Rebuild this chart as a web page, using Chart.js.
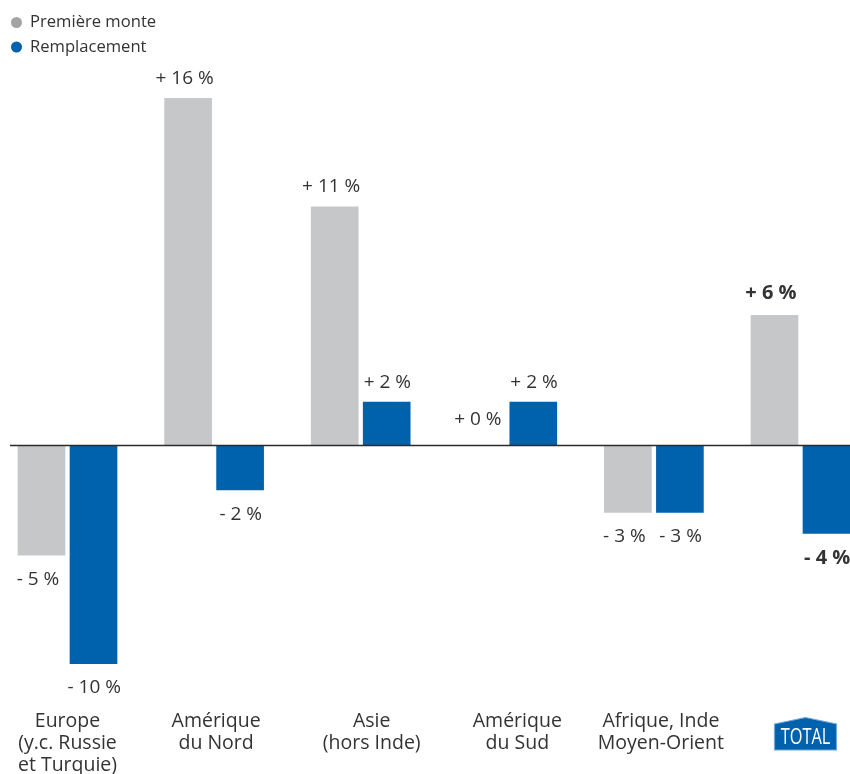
<!DOCTYPE html>
<html><head><meta charset="utf-8">
<style>html,body{margin:0;padding:0;background:#fff}canvas{display:block}</style>
<script src="https://cdn.jsdelivr.net/npm/chart.js@4"></script></head>
<body><canvas id="c" width="850" height="774"></canvas>
<script>
const categories = [["Europe","(y.c. Russie","et Turquie)"],["Amérique","du Nord"],["Asie","(hors Inde)"],["Amérique","du Sud"],["Afrique, Inde","Moyen-Orient"],"TOTAL"];
const seriesNames = ["Première monte","Remplacement"];
const premiereMonte = [-5.05,16,11,0,-3.08,6];
const remplacement = [-10.05,-2.05,2,2,-3.08,-4.05];
const premiereLabels = ["- 5 %","+ 16 %","+ 11 %","+ 0 %","- 3 %","+ 6 %"];
const remplacementLabels = ["- 10 %","- 2 %","+ 2 %","+ 2 %","- 3 %","- 4 %"];
const FONT = '"Open Sans", sans-serif', TEXT = '#333335';
const BAR_GREY = '#c6c7c9', BLUE = '#0061ad', LEGEND_GREY = '#a3a4a6';
const tickShift = [0,2,11,10,7,5];

const overlay = {
  id:'overlay',
  afterDatasetsDraw(chart){
    const {ctx,scales:{x,y}} = chart;
    const y0 = y.getPixelForValue(0);
    ctx.save();
    // baseline
    ctx.strokeStyle='#2b2b2b'; ctx.lineWidth=1.5;
    ctx.beginPath(); ctx.moveTo(10,y0); ctx.lineTo(850,y0); ctx.stroke();
    // value labels
    ctx.textAlign='center'; ctx.textBaseline='middle'; ctx.fillStyle=TEXT;
    [premiereLabels,remplacementLabels].forEach((labels,d)=>{
      chart.getDatasetMeta(d).data.forEach((bar,i)=>{
        const v = chart.data.datasets[d].data[i];
        const last = i===categories.length-1;
        ctx.font=(last?'bold 20px ':'19px ')+FONT;
        const yy = v>=0 ? bar.y-(last?22.5:20) : bar.y+24.5;
        const dx = d===0 ? -3.5 : 0.7;
        ctx.fillText(labels[i],bar.x+dx,v===0?y0-26:yy);
      });
    });
    // category labels, at the scale's tick positions
    ctx.font='19.5px '+FONT;
    categories.slice(0,5).forEach((lines,i)=>{
      lines.forEach((t,k)=>ctx.fillText(t,x.getPixelForTick(i)+tickShift[i],721+k*22));
    });
    // legend
    seriesNames.forEach((n,i)=>{
      const ly=22.5+i*24.5;
      ctx.fillStyle=i===0?LEGEND_GREY:BLUE;
      ctx.beginPath(); ctx.arc(16.5,ly,5.5,0,Math.PI*2); ctx.fill();
      ctx.fillStyle=TEXT; ctx.textAlign='left'; ctx.font='16.6px '+FONT;
      ctx.fillText(n,30,ly);
    });
    // TOTAL badge
    const bx=x.getPixelForTick(5)+tickShift[5];
    ctx.beginPath();
    ctx.moveTo(bx-31,724); ctx.lineTo(bx,717.5); ctx.lineTo(bx+31,724);
    ctx.lineTo(bx+31,750); ctx.lineTo(bx-31,750); ctx.closePath();
    ctx.fillStyle=BLUE; ctx.fill();
    ctx.strokeStyle='#6fa8d8'; ctx.lineWidth=1.2; ctx.stroke();
    ctx.fillStyle='#fff'; ctx.textAlign='center';
    ctx.translate(bx,738); ctx.scale(0.78,1);
    ctx.font='21px "Open Sans",sans-serif';
    ctx.fillText(categories[5],0,0);
    ctx.restore();
  }
};

new Chart(document.getElementById('c'),{
  type:'bar',
  data:{labels:categories,datasets:[
    {label:seriesNames[0],data:premiereMonte,backgroundColor:BAR_GREY,clip:false},
    {label:seriesNames[1],data:remplacement,backgroundColor:BLUE,clip:false}
  ]},
  plugins:[overlay],
  options:{
    responsive:false,animation:false,
    barThickness:52,maxBarThickness:47,
    layout:{padding:{left:67.5,right:49.5,top:54.9,bottom:0}},
    plugins:{legend:{display:false},tooltip:{enabled:false}},
    scales:{
      y:{display:false,min:-12,max:18},
      x:{offset:false,
        afterFit(s){s.height=68.1;},
        grid:{display:false},border:{display:false},
        ticks:{display:false,autoSkip:false}}
    }
  }
});
</script></body></html>
